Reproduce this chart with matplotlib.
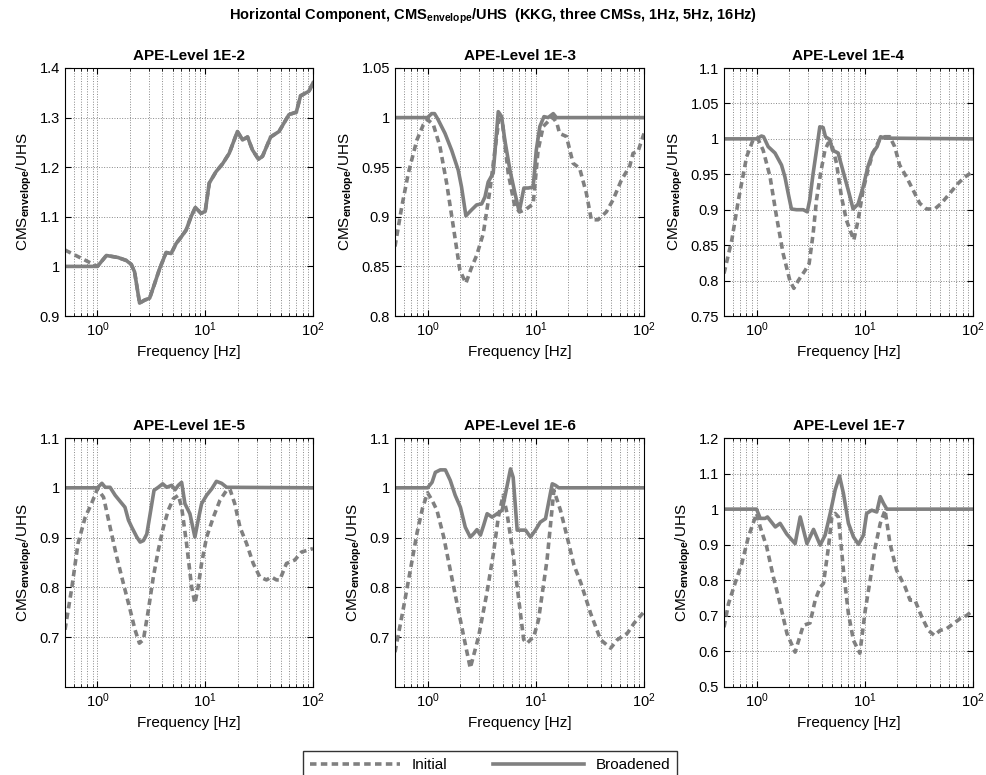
import matplotlib
matplotlib.use("Agg")
import matplotlib.pyplot as plt
from matplotlib.ticker import FormatStrFormatter, LogLocator

plt.rcParams['font.family'] = ['Liberation Sans', 'DejaVu Sans']
plt.rcParams['mathtext.fontset'] = 'custom'
plt.rcParams['mathtext.rm'] = 'Liberation Sans'
plt.rcParams['mathtext.bf'] = 'Liberation Sans:bold'
plt.rcParams['font.size'] = 10

# ---- data (frequency in Hz, ratio CMS_envelope/UHS) ----
# APE-Level 1E-2
f1_init = [0.5, 1.0, 1.21, 1.55, 1.85, 2.06, 2.21, 2.46, 2.74, 3.05, 3.39, 3.77, 4.34, 4.83, 5.37, 5.97, 6.64, 7.38, 8.1, 9.14,
           10.0, 10.9, 12.6, 14.5, 16.7, 19.9, 22.2, 24.7, 27.4, 31.2, 34.0, 40.5, 48.4, 59.8, 70.0, 76.7, 91.6, 100]
v1_init = [1.033, 1.0, 1.022, 1.018, 1.012, 1.004, 0.989, 0.926, 0.932, 0.936, 0.965, 0.995, 1.028, 1.026, 1.046, 1.059, 1.073, 1.1, 1.119, 1.107,
           1.111, 1.168, 1.191, 1.207, 1.228, 1.272, 1.255, 1.261, 1.235, 1.216, 1.222, 1.261, 1.272, 1.306, 1.311, 1.344, 1.353, 1.37]
f1_broad = [0.5, 1.0, 1.21, 1.55, 1.85, 2.06, 2.21, 2.46, 2.74, 3.05, 3.39, 3.77, 4.34, 4.83, 5.37, 5.97, 6.64, 7.38, 8.1, 9.14,
            10.0, 10.9, 12.6, 14.5, 16.7, 19.9, 22.2, 24.7, 27.4, 31.2, 34.0, 40.5, 48.4, 59.8, 70.0, 76.7, 91.6, 100]
v1_broad = [1.0, 1.0, 1.022, 1.018, 1.012, 1.004, 0.989, 0.926, 0.932, 0.936, 0.965, 0.995, 1.028, 1.026, 1.046, 1.059, 1.073, 1.1, 1.119, 1.107,
            1.111, 1.168, 1.191, 1.207, 1.228, 1.272, 1.255, 1.261, 1.235, 1.216, 1.222, 1.261, 1.272, 1.306, 1.311, 1.344, 1.353, 1.37]

# APE-Level 1E-3
f2_init = [0.5, 0.577, 0.664, 0.794, 0.915, 1.0, 1.13, 1.3, 1.5, 1.73, 1.99, 2.26, 2.55, 2.84, 3.27, 3.77, 4.19, 4.56, 4.93, 5.56,
           6.41, 7.13, 8.22, 9.46, 10.5, 11.7, 13.5, 14.5, 15.7, 16.6, 19.2, 22.1, 25.4, 29.3, 32.6, 37.6, 44.9, 51.7, 61.8, 73.8,
           79.2, 88.1, 100]
v2_init = [0.87, 0.91, 0.944, 0.977, 0.993, 0.998, 0.993, 0.971, 0.934, 0.89, 0.846, 0.833, 0.849, 0.861, 0.883, 0.927, 0.967, 0.998, 0.994, 0.944,
           0.91, 0.905, 0.908, 0.913, 0.967, 0.991, 0.998, 1.0, 0.994, 0.984, 0.981, 0.954, 0.949, 0.924, 0.897, 0.897, 0.905, 0.917, 0.937, 0.951,
           0.964, 0.966, 0.984]
f2_broad = [0.5, 1.0, 1.09, 1.16, 1.25, 1.45, 1.67, 1.92, 2.06, 2.26, 2.55, 2.84, 3.16, 3.39, 3.63, 4.04, 4.5, 4.83, 5.18, 5.77,
            6.41, 7.03, 7.76, 8.51, 9.46, 10.1, 10.9, 11.9, 13.0, 14.5, 15.5, 100]
v2_broad = [1.0, 1.0, 1.004, 1.004, 0.998, 0.984, 0.967, 0.947, 0.930, 0.901, 0.907, 0.912, 0.913, 0.920, 0.935, 0.944, 1.006, 1.001, 0.977, 0.947,
            0.924, 0.905, 0.929, 0.929, 0.930, 0.967, 0.991, 1.001, 1.0, 1.004, 1.0, 1.0]

# APE-Level 1E-4
f3_init = [0.5, 0.59, 0.68, 0.81, 0.93, 1.02, 1.15, 1.33, 1.53, 1.76, 2.03, 2.21, 2.43, 2.8, 3.06, 3.33, 3.58, 3.9, 4.28, 4.59,
           4.92, 5.47, 6.09, 6.77, 7.53, 7.91, 8.67, 9.65, 10.7, 11.9, 13.7, 15.3, 17.0, 18.9, 21.0, 24.3, 27.9, 32.2, 37.1, 44.3,
           51.0, 61.0, 72.7, 83.8, 100]
v3_init = [0.81, 0.857, 0.914, 0.975, 0.999, 1.001, 0.984, 0.947, 0.89, 0.838, 0.8, 0.789, 0.8, 0.814, 0.824, 0.866, 0.914, 0.951, 0.984, 0.994,
           0.994, 0.966, 0.918, 0.885, 0.866, 0.857, 0.885, 0.928, 0.956, 0.98, 0.999, 1.003, 1.003, 0.989, 0.963, 0.946, 0.928, 0.909, 0.901, 0.901,
           0.909, 0.923, 0.937, 0.946, 0.954]
f3_broad = [0.5, 1.0, 1.11, 1.16, 1.28, 1.48, 1.7, 1.83, 1.96, 2.1, 2.34, 2.7, 2.94, 3.1, 3.33, 3.58, 3.84, 4.12, 4.33, 4.75,
            5.03, 5.67, 6.31, 7.02, 7.8, 8.67, 9.65, 10.7, 11.8, 13.0, 14.0, 15.3, 100]
v3_broad = [1.0, 1.0, 1.004, 1.003, 0.989, 0.98, 0.963, 0.946, 0.923, 0.901, 0.9, 0.9, 0.897, 0.914, 0.951, 0.984, 1.017, 1.016, 1.003, 0.999,
            0.984, 0.98, 0.954, 0.928, 0.901, 0.908, 0.932, 0.961, 0.98, 0.989, 1.003, 1.001, 1.0]

# APE-Level 1E-5
f4_init = [0.5, 0.58, 0.66, 0.77, 0.88, 1.0, 1.14, 1.31, 1.51, 1.74, 2.01, 2.23, 2.45, 2.67, 2.97, 3.3, 3.67, 4.09, 4.54, 5.06,
           5.63, 6.04, 6.71, 7.48, 8.02, 8.6, 9.25, 10.3, 11.9, 13.7, 15.8, 16.9, 18.8, 21.0, 24.2, 27.9, 32.1, 37.0, 41.2, 45.8,
           49.2, 56.7, 67.8, 78.2, 90.2, 100]
v4_init = [0.715, 0.801, 0.888, 0.941, 0.968, 0.998, 0.981, 0.921, 0.861, 0.808, 0.755, 0.715, 0.688, 0.695, 0.755, 0.821, 0.875, 0.921, 0.955, 0.978,
           0.985, 0.961, 0.888, 0.801, 0.768, 0.801, 0.848, 0.901, 0.941, 0.975, 0.995, 0.998, 0.968, 0.921, 0.888, 0.848, 0.821, 0.815, 0.821, 0.815,
           0.815, 0.848, 0.855, 0.871, 0.875, 0.878]
f4_broad = [0.5, 1.0, 1.1, 1.18, 1.31, 1.46, 1.62, 1.8, 1.94, 2.08, 2.32, 2.49, 2.67, 2.87, 3.08, 3.35, 3.67, 4.03, 4.39, 4.89,
            5.25, 5.63, 6.04, 6.48, 7.21, 8.02, 8.6, 9.25, 10.3, 11.5, 12.7, 14.2, 15.8, 100]
v4_broad = [1.0, 1.0, 1.009, 1.001, 1.001, 0.985, 0.973, 0.961, 0.935, 0.921, 0.901, 0.891, 0.894, 0.907, 0.947, 0.995, 1.001, 1.008, 1.001, 1.005,
            0.996, 1.005, 1.011, 0.968, 0.948, 0.901, 0.935, 0.968, 0.985, 0.998, 1.013, 1.009, 1.001, 1.0]

# APE-Level 1E-6
f5_init = [0.5, 0.6, 0.7, 0.8, 0.9, 1.0, 1.1, 1.22, 1.41, 1.62, 1.87, 2.16, 2.48, 2.96, 3.54, 4.07, 4.5, 4.99, 5.43, 6.04,
           6.73, 7.73, 8.3, 9.58, 10.6, 12.7, 14.7, 16.9, 19.5, 22.5, 26.0, 32.1, 39.7, 49.2, 56.7, 70.2, 80.9, 100]
v5_init = [0.67, 0.76, 0.84, 0.91, 0.96, 0.99, 0.975, 0.955, 0.901, 0.835, 0.768, 0.701, 0.638, 0.701, 0.79, 0.87, 0.94, 0.985, 0.948, 0.881,
           0.801, 0.695, 0.688, 0.701, 0.735, 0.855, 0.995, 0.955, 0.901, 0.845, 0.81, 0.748, 0.695, 0.678, 0.695, 0.708, 0.728, 0.751]
f5_broad = [0.5, 1.0, 1.1, 1.18, 1.31, 1.46, 1.62, 1.8, 2.01, 2.23, 2.48, 2.67, 2.86, 3.08, 3.3, 3.55, 3.95, 4.39, 4.89, 5.25,
            5.84, 6.18, 6.73, 7.48, 8.04, 8.93, 9.93, 11.0, 12.3, 13.7, 14.2, 15.2, 16.3, 100]
v5_broad = [1.0, 1.0, 1.011, 1.031, 1.036, 1.036, 1.015, 0.985, 0.961, 0.921, 0.901, 0.908, 0.916, 0.905, 0.925, 0.948, 0.941, 0.948, 0.955, 0.988,
            1.038, 1.021, 0.915, 0.915, 0.915, 0.901, 0.915, 0.931, 0.938, 0.991, 1.008, 1.005, 1.0, 1.0]

# APE-Level 1E-7
f6_init = [0.5, 0.55, 0.63, 0.73, 0.84, 1.0, 1.08, 1.24, 1.43, 1.65, 1.91, 2.27, 2.7, 3.12, 3.48, 3.86, 4.15, 4.62, 4.96, 5.32,
           5.71, 6.35, 7.06, 7.86, 9.0, 9.4, 10.1, 11.2, 12.5, 13.9, 15.4, 17.1, 19.7, 23.6, 26.2, 29.1, 33.6, 38.7, 44.0, 49.6,
           57.1, 65.8, 75.9, 87.5, 100]
v6_init = [0.668, 0.734, 0.79, 0.847, 0.922, 0.988, 0.95, 0.894, 0.809, 0.734, 0.65, 0.598, 0.673, 0.68, 0.744, 0.78, 0.791, 0.894, 0.978, 0.988,
           0.978, 0.828, 0.706, 0.631, 0.595, 0.64, 0.716, 0.8, 0.894, 0.96, 0.997, 0.903, 0.828, 0.781, 0.744, 0.744, 0.697, 0.659, 0.645, 0.659,
           0.664, 0.678, 0.692, 0.701, 0.716]
f6_broad = [0.5, 1.0, 1.08, 1.2, 1.26, 1.49, 1.65, 1.9, 2.27, 2.53, 2.92, 3.36, 3.87, 4.3, 4.79, 5.32, 5.84, 6.35, 7.06, 7.86,
            8.74, 9.72, 10.4, 11.6, 12.9, 13.9, 14.9, 16.0, 100]
v6_broad = [1.0, 1.0, 0.974, 0.974, 0.978, 0.95, 0.96, 0.93, 0.903, 0.978, 0.903, 0.943, 0.899, 0.927, 0.988, 1.054, 1.093, 1.044, 0.96, 0.922,
            0.901, 0.927, 0.988, 0.997, 0.992, 1.035, 1.016, 1.0, 1.0]

titles = ['APE-Level 1E-2', 'APE-Level 1E-3', 'APE-Level 1E-4',
          'APE-Level 1E-5', 'APE-Level 1E-6', 'APE-Level 1E-7']
ylims = [(0.9, 1.4), (0.8, 1.05), (0.75, 1.1), (0.6, 1.1), (0.6, 1.1), (0.5, 1.2)]
yticks = [[0.9, 1.0, 1.1, 1.2, 1.3, 1.4],
          [0.8, 0.85, 0.9, 0.95, 1.0, 1.05],
          [0.75, 0.8, 0.85, 0.9, 0.95, 1.0, 1.05, 1.1],
          [0.7, 0.8, 0.9, 1.0, 1.1],
          [0.7, 0.8, 0.9, 1.0, 1.1],
          [0.5, 0.6, 0.7, 0.8, 0.9, 1.0, 1.1, 1.2]]

series = [(f1_init, v1_init, f1_broad, v1_broad),
          (f2_init, v2_init, f2_broad, v2_broad),
          (f3_init, v3_init, f3_broad, v3_broad),
          (f4_init, v4_init, f4_broad, v4_broad),
          (f5_init, v5_init, f5_broad, v5_broad),
          (f6_init, v6_init, f6_broad, v6_broad)]

# axes boxes in pixels (left, top, right, bottom) of a 987x775 canvas
W, H = 987, 775
cols = [(65, 313), (395, 644), (724, 973)]
rows = [(68, 316), (438, 687)]

line_col = '#808080'
lw = 2.6

fig = plt.figure(figsize=(W / 100, H / 100), dpi=100)

for k in range(6):
    r, c = divmod(k, 3)
    x0, x1 = cols[c]
    y0, y1 = rows[r]
    ax = fig.add_axes([x0 / W, 1 - y1 / H, (x1 - x0) / W, (y1 - y0) / H])
    fi, vi, fb, vb = series[k]
    l_init, = ax.plot(fi, vi, color=line_col, lw=lw, linestyle=(0, (1.8, 1.2)), label='Initial')
    l_broad, = ax.plot(fb, vb, color=line_col, lw=lw, label='Broadened')
    ax.set_xscale('log')
    ax.set_xlim(0.5, 100)
    ax.set_ylim(*ylims[k])
    ax.set_yticks(yticks[k])
    ax.yaxis.set_major_formatter(FormatStrFormatter('%g'))
    ax.xaxis.set_major_locator(LogLocator(base=10, numticks=10))
    ax.xaxis.set_minor_locator(LogLocator(base=10, subs=range(2, 10), numticks=20))
    ax.grid(True, which='major', axis='both', linestyle=':', color='#888888', lw=0.7)
    ax.grid(True, which='minor', axis='x', linestyle=':', color='#888888', lw=0.7)
    ax.tick_params(which='both', direction='in', top=True, right=True, labelsize=10.5)
    ax.tick_params(which='major', length=4)
    ax.tick_params(which='minor', length=2)
    for s in ax.spines.values():
        s.set_linewidth(0.8)
    ax.set_title(titles[k], fontsize=11, fontweight='bold', pad=6)
    ax.set_xlabel('Frequency [Hz]', fontsize=11)
    ax.set_ylabel(r'CMS$_{\mathbf{envelope}}$/UHS', fontsize=11, labelpad=4)

fig.text(0.5, 1 - 16 / H, r'Horizontal Component, CMS$_{\mathbf{envelope}}$/UHS  (KKG, three CMSs, 1Hz, 5Hz, 16Hz)',
         ha='center', va='center', fontsize=10.5, fontweight='bold')

fig.legend([l_init, l_broad], ['Initial', 'Broadened'], loc='center', ncol=2,
           bbox_to_anchor=(490 / W, 1 - 765 / H), frameon=True, fancybox=False,
           edgecolor='black', fontsize=11, handlelength=5.9, columnspacing=3.0,
           borderpad=0.45, borderaxespad=0, handletextpad=0.8)

fig.savefig('out.png', dpi=100)
